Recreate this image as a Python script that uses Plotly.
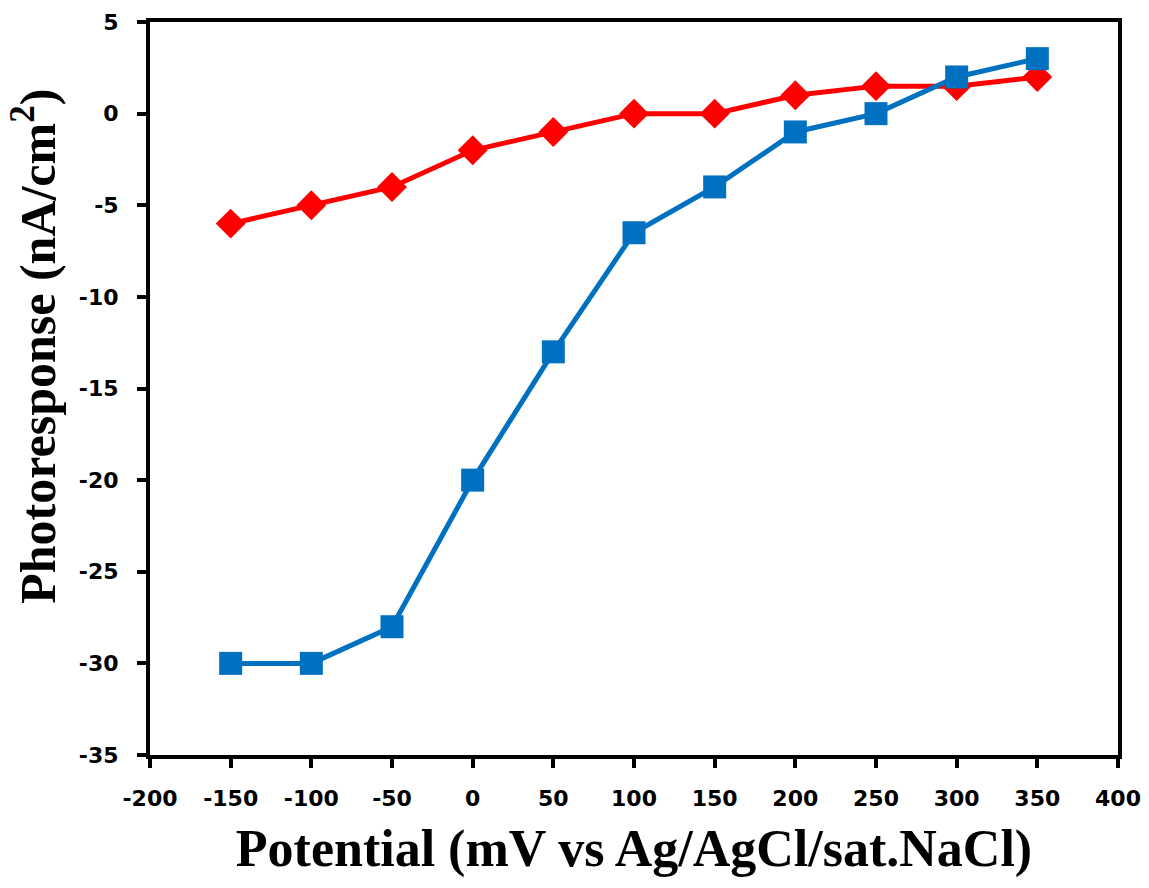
import plotly.graph_objects as go

potential = [-150, -100, -50, 0, 50, 100, 150, 200, 250, 300, 350]
red_series = [-6, -5, -4, -2, -1, 0, 0, 1, 1.5, 1.5, 2]
blue_series = [-30, -30, -28, -20, -13, -6.5, -4, -1, 0, 2, 3]
x_ticks = [-200, -150, -100, -50, 0, 50, 100, 150, 200, 250, 300, 350, 400]
y_ticks = [5, 0, -5, -10, -15, -20, -25, -30, -35]

fig = go.Figure()
fig.add_trace(go.Scatter(x=potential, y=red_series, mode="lines+markers",
                         line=dict(color="#FF0000", width=5),
                         marker=dict(symbol="diamond", size=23, color="#FF0000"),
                         showlegend=False))
fig.add_trace(go.Scatter(x=potential, y=blue_series, mode="lines+markers",
                         line=dict(color="#0070C0", width=5),
                         marker=dict(symbol="square", size=23, color="#0070C0"),
                         showlegend=False))

tickfont = dict(family="DejaVu Sans", size=22, color="black", weight="bold")

fig.update_layout(
    width=1149, height=888,
    margin=dict(l=150, r=31, t=22, b=133, autoexpand=False),
    plot_bgcolor="white", paper_bgcolor="white",
    xaxis=dict(range=[-200, 400], tickvals=x_ticks, ticktext=[str(v) for v in x_ticks],
               showgrid=False, zeroline=False, showline=True, linecolor="black", linewidth=4,
               mirror=True, ticks="outside", ticklen=9, tickwidth=4, tickcolor="black",
               tickfont=tickfont, ticklabelstandoff=12, automargin=False,
               title=dict(text="Potential (mV vs Ag/AgCl/sat.NaCl)",
                          font=dict(family="Liberation Serif", size=52, color="black", weight="bold"),
                          standoff=20)),
    yaxis=dict(range=[-35, 5], tickvals=y_ticks, ticktext=[str(v) for v in y_ticks],
               showgrid=False, zeroline=False, showline=True, linecolor="black", linewidth=4,
               mirror=True, ticks="outside", ticklen=9, tickwidth=4, tickcolor="black",
               tickfont=tickfont, ticklabelstandoff=14, automargin=False),
    annotations=[dict(text="Photoresponse (nA/cm<sup>2</sup>)", textangle=-90,
                      xref="paper", yref="paper", x=-0.119, y=0.558,
                      xanchor="center", yanchor="middle", showarrow=False,
                      font=dict(family="Liberation Serif", size=50, color="black", weight="bold"))],
)

fig.write_html("out.html")
